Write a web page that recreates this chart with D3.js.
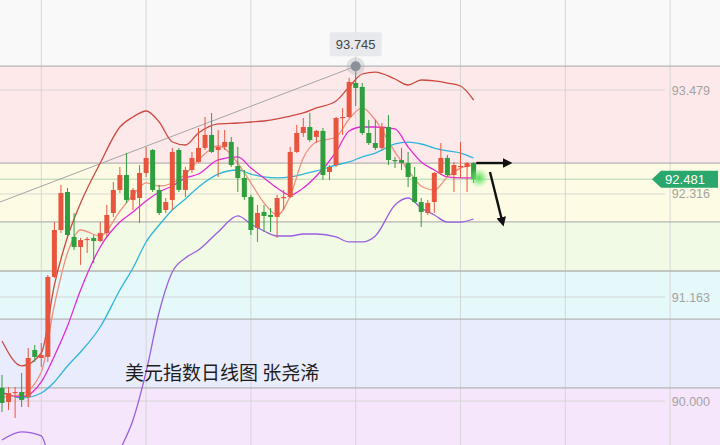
<!DOCTYPE html>
<html><head><meta charset="utf-8">
<script src="https://cdn.jsdelivr.net/npm/d3@7"></script>
<style>html,body{margin:0;padding:0;background:#fff;overflow:hidden}svg{display:block}</style>
</head><body><svg id="c" width="720" height="445"></svg>
<script>
// ---- candle data (index 0..72) ----
const opens = [90.146,89.989,90.090,90.101,90.045,90.571,90.481,90.493,91.388,91.913,
92.338,91.835,91.723,91.801,91.824,91.790,91.880,92.103,92.361,92.528,
92.249,92.271,92.551,92.808,92.361,92.137,92.249,92.808,92.361,92.584,
92.674,92.831,92.976,92.808,92.842,92.898,92.629,92.495,92.282,91.936,
92.115,92.081,92.059,92.271,92.282,92.786,92.998,93.065,92.954,93.021,
92.562,92.640,93.166,93.177,93.558,93.513,92.998,92.886,92.831,93.065,
92.696,92.696,92.663,92.506,92.226,92.103,92.226,92.551,92.719,92.528,
92.618,92.618,92.663];
const highs = [90.291,90.157,90.157,90.314,90.593,90.627,90.649,91.410,92.003,92.417,
92.383,92.103,91.824,91.835,91.857,92.003,92.193,92.450,92.618,92.775,
92.383,92.640,92.842,92.819,92.417,92.271,92.831,92.831,92.618,92.786,
93.054,93.177,93.222,93.032,93.032,92.954,92.842,92.584,92.305,92.193,
92.193,92.159,92.305,92.361,92.842,93.088,93.166,93.222,93.032,93.054,
92.640,93.177,93.278,93.614,93.745,93.558,93.144,93.144,93.110,93.200,
92.730,92.831,92.786,92.618,92.271,92.249,92.562,92.886,92.752,92.674,
92.898,92.674,92.674];
const lows = [89.877,89.900,89.810,89.933,89.933,90.437,90.381,90.437,91.376,91.880,
91.824,91.690,91.522,91.656,91.544,91.779,91.835,92.059,92.327,92.215,
92.137,91.991,92.506,92.338,92.081,92.103,92.137,92.338,92.282,92.551,
92.663,92.808,92.775,92.506,92.808,92.618,92.338,92.249,91.857,91.779,
91.891,91.891,91.824,92.137,92.271,92.775,92.954,92.898,92.886,92.473,
92.473,92.618,92.976,93.166,93.300,92.976,92.864,92.808,92.808,92.640,
92.607,92.584,92.394,92.215,91.947,92.081,92.103,92.528,92.506,92.338,
92.495,92.338,92.439];
const closes = [89.978,90.090,90.101,90.012,90.481,90.493,90.515,91.388,91.913,92.327,
91.857,91.723,91.801,91.813,91.790,91.880,92.081,92.361,92.528,92.249,
92.361,92.551,92.719,92.361,92.103,92.226,92.786,92.361,92.584,92.719,
92.831,92.976,92.786,92.842,92.898,92.640,92.495,92.282,91.913,92.103,
92.070,92.059,92.271,92.282,92.786,92.998,93.065,92.920,93.021,92.528,
92.618,93.166,93.177,93.569,93.502,92.998,92.886,92.831,93.065,92.696,
92.685,92.663,92.506,92.226,92.115,92.215,92.551,92.719,92.528,92.640,
92.629,92.663,92.481];

// ---- indicator lines, read at these candle indices ----
const lineIdx   = [0,3,6,8,10,12,15,18,20,22,24,26,28,30,33,36,38,40,42,44,46,48,51,53,55,57,60,62,64,66,68,70,72];
const bollUpper = [90.671,90.392,90.537,91.298,91.835,92.215,92.662,93.065,93.177,93.244,93.121,92.897,92.864,92.998,93.099,93.110,93.121,93.132,93.155,93.188,93.222,93.278,93.356,93.513,93.658,93.680,93.602,93.535,93.591,93.580,93.557,93.524,93.367];
const bollMid   = [90.101,90.034,90.090,90.213,90.392,90.548,90.828,91.242,91.488,91.779,91.969,92.137,92.260,92.394,92.539,92.584,92.539,92.506,92.495,92.506,92.539,92.573,92.640,92.674,92.730,92.774,92.875,92.897,92.875,92.830,92.797,92.774,92.718];
const bollLower = [89.564,89.654,89.609,89.117,88.893,88.837,89.005,89.452,89.788,90.325,90.996,91.443,91.600,91.689,91.891,92.070,91.980,91.902,91.846,91.846,91.868,91.868,91.835,91.779,91.779,91.846,92.193,92.271,92.159,92.081,92.002,92.002,92.036];
const ma10      = [90.090,90.045,90.213,90.504,90.839,91.242,91.723,92.002,92.114,92.237,92.338,92.405,92.495,92.539,92.696,92.730,92.606,92.495,92.383,92.304,92.383,92.517,92.785,93.020,93.065,93.065,93.043,92.841,92.674,92.584,92.506,92.495,92.495];
const ma5       = [90.045,90.078,90.325,91.074,91.656,91.913,91.846,92.125,92.304,92.439,92.405,92.439,92.539,92.696,92.853,92.662,92.439,92.215,92.081,92.293,92.718,92.897,92.953,93.155,93.278,93.143,92.785,92.584,92.405,92.360,92.506,92.606,92.640];

// ---- levels / labels ----
const fibLevels   = [93.745, 92.662, 92.003, 91.454, 90.917, 90.146];
const priceLabels = [93.479, 92.316, 91.163, 90.000];
const lastPrice   = 92.481;
const highPoint   = {i:54, v:93.745, label:"93.745"};
const trendLine   = [{i:-0.3, v:92.226},{i:54, v:93.745}];
const arrowFlat   = [{i:72.4, v:92.662},{i:77.2, v:92.662}];
const arrowDown   = [{i:74.5, v:92.562},{i:76.4, v:92.003}];
const gridIdx     = [6,22,38,54,70,86,102];
const title       = "美元指数日线图 张尧浠";

const W=720,H=445;
const x = d3.scaleLinear().domain([0,72]).range([2,473.6]);
const y = d3.scaleLinear().domain([93.479,90.000]).range([90,401]);
const svg = d3.select("#c");
const defs = svg.append("defs");

// background bands
const bandColors = ["#fde9ea","#fdfbe4","#f0fae5","#e5f8fa","#e9ecfd","#f5e6fb"];
svg.append("rect").attr("x",0).attr("y",0).attr("width",W).attr("height",y(fibLevels[0])).attr("fill","#f9f9f9");
fibLevels.forEach((lv,k)=>{
  const y0=y(lv), y1 = k<fibLevels.length-1 ? y(fibLevels[k+1]) : H;
  svg.append("rect").attr("x",0).attr("y",y0).attr("width",W).attr("height",y1-y0).attr("fill",bandColors[k]);
});
// vertical grid
svg.append("g").selectAll("line").data(gridIdx).join("line")
  .attr("x1",d=>x(d)).attr("x2",d=>x(d)).attr("y1",0).attr("y2",H)
  .attr("stroke","#d6d6d6").attr("stroke-width",1);
// price label lines
svg.append("g").selectAll("line").data(priceLabels).join("line")
  .attr("x1",0).attr("x2",665).attr("y1",d=>y(d)).attr("y2",d=>y(d))
  .attr("stroke","#d0d0d0").attr("stroke-width",0.8);
svg.append("line").attr("x1",0).attr("x2",655).attr("y1",y(lastPrice)).attr("y2",y(lastPrice))
  .attr("stroke","#a9cfa9").attr("stroke-width",0.9);
// fib lines
svg.append("g").selectAll("line").data(fibLevels).join("line")
  .attr("x1",0).attr("x2",W).attr("y1",d=>y(d)).attr("y2",d=>y(d))
  .attr("stroke","#b4b4b4").attr("stroke-width",1.3);

// trend line
const lineXY = d3.line().x(d=>x(d.i)).y(d=>y(d.v));
svg.append("path").attr("d",lineXY(trendLine)).attr("stroke","#a5a5a5").attr("stroke-width",1).attr("fill","none");

// indicator lines
const ind = [
  {vals:bollLower,color:"#9a5ee0"},
  {vals:bollUpper,color:"#cc4a40"},
  {vals:bollMid,color:"#2cb6dc"},
  {vals:ma10,color:"#e22ad6"},
  {vals:ma5,color:"#f2907e"}
];
const lg = d3.line().x(d=>x(d[0])).y(d=>y(d[1])).curve(d3.curveMonotoneX);
ind.forEach(s=>{
  svg.append("path").attr("d",lg(lineIdx.map((i,k)=>[i,s.vals[k]])))
    .attr("fill","none").attr("stroke",s.color).attr("stroke-width",1.3);
});

// candles
const candles = opens.map((o,i)=>({i,o,h:highs[i],l:lows[i],c:closes[i]}));
const up="#e8553f", dn="#2f9e3f";
const cg = svg.append("g");
cg.selectAll("line").data(candles).join("line")
  .attr("x1",d=>x(d.i)).attr("x2",d=>x(d.i)).attr("y1",d=>y(d.h)).attr("y2",d=>y(d.l))
  .attr("stroke",d=>d.c>=d.o?up:dn).attr("stroke-width",1);
cg.selectAll("rect").data(candles).join("rect")
  .attr("x",d=>x(d.i)-2.5).attr("width",5)
  .attr("y",d=>y(Math.max(d.o,d.c)))
  .attr("height",d=>Math.max(1.2,Math.abs(y(d.o)-y(d.c))))
  .attr("fill",d=>d.c>=d.o?up:dn);

// glow at last candle
const rg = defs.append("radialGradient").attr("id","glow");
rg.append("stop").attr("offset","0%").attr("stop-color","#4fdc4f").attr("stop-opacity",0.95);
rg.append("stop").attr("offset","45%").attr("stop-color","#6ee46e").attr("stop-opacity",0.6);
rg.append("stop").attr("offset","100%").attr("stop-color","#9ef09e").attr("stop-opacity",0);
svg.append("circle").attr("cx",x(72.8)).attr("cy",y(92.495)).attr("r",10).attr("fill","url(#glow)");

// arrows
defs.append("marker").attr("id","ah").attr("viewBox","0 0 10 10").attr("refX",5).attr("refY",5)
  .attr("markerWidth",4).attr("markerHeight",4).attr("orient","auto")
  .append("path").attr("d","M0,0 L10,5 L0,10 z").attr("fill","#111");
[arrowFlat,arrowDown].forEach(a=>{
  svg.append("path").attr("d",lineXY(a)).attr("stroke","#111").attr("stroke-width",2.4)
    .attr("fill","none").attr("marker-end","url(#ah)");
});

// high point marker
svg.append("circle").attr("cx",x(highPoint.i)).attr("cy",y(highPoint.v)).attr("r",9).attr("fill","#aab0b8").attr("opacity",0.35);
svg.append("circle").attr("cx",x(highPoint.i)).attr("cy",y(highPoint.v)).attr("r",5).attr("fill","#8b909a");
svg.append("rect").attr("x",x(highPoint.i)-26).attr("y",y(highPoint.v)-34).attr("width",52).attr("height",24)
  .attr("rx",2).attr("fill","#e6e8eb").attr("opacity",0.95);
svg.append("text").attr("x",x(highPoint.i)).attr("y",y(highPoint.v)-17).attr("text-anchor","middle")
  .attr("font-family","Liberation Sans, Arial, sans-serif").attr("font-size",13).attr("fill","#444")
  .text(highPoint.label);

// right labels
svg.append("g").selectAll("text").data(priceLabels).join("text")
  .attr("x",710).attr("y",d=>y(d)+4.5).attr("text-anchor","end")
  .attr("font-family","Liberation Sans, Arial, sans-serif").attr("font-size",12.5).attr("fill","#a3a3a3")
  .text(d=>d.toFixed(3));
const ty=y(lastPrice);
svg.append("path").attr("d",`M652,${ty} L661,${ty-8.5} L718,${ty-8.5} L718,${ty+8.5} L661,${ty+8.5} Z`).attr("fill","#2aa76c");
svg.append("text").attr("x",685).attr("y",ty+4.5).attr("text-anchor","middle")
  .attr("font-family","Liberation Sans, Arial, sans-serif").attr("font-size",13).attr("fill","#fff")
  .text(lastPrice.toFixed(3));

// title
svg.append("text").attr("x",125).attr("y",380).attr("font-family","Noto Sans CJK SC, sans-serif")
  .attr("font-size",19).attr("fill","#1e1e1e").text(title);
</script></body></html>
